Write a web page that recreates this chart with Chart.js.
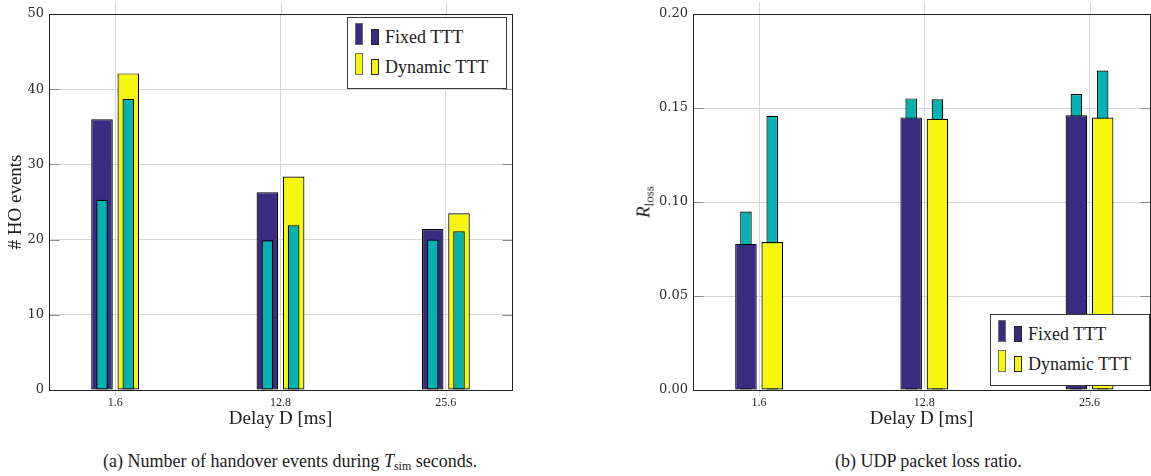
<!DOCTYPE html>
<html lang="en">
<head>
<meta charset="utf-8">
<title>Fixed vs dynamic TTT</title>
<script src="https://cdn.jsdelivr.net/npm/chart.js@4.4.1/dist/chart.umd.min.js"></script>
<style>
  html, body { margin: 0; padding: 0; background: #fff; overflow: hidden; }
  #figure { position: relative; width: 1151px; height: 476px; overflow: hidden;
            font-family: 'Liberation Serif', 'Times New Roman', serif; color: #1c1c1c; }
  #figure canvas { position: absolute; top: 0; }
  .legend { position: absolute; box-sizing: border-box; width: 160px; height: 72px;
            background: #fff; border: 1px solid #3a3a3a; }
  .legend .swatch { position: absolute; box-sizing: border-box; width: 8px; }
  .legend .swatch.big { height: 22px; border: 1px solid #707070; }
  .legend .swatch.small { height: 16px; border: 1px solid #262626; }
  .legend .text { position: absolute; left: 37px; font-size: 18px; line-height: 18px; white-space: nowrap; }
  .caption { position: absolute; top: 452px; font-size: 18px; line-height: 18px; white-space: nowrap; }
  .caption sub { font-size: 12px; vertical-align: -3px; line-height: 0; }
  #rloss { position: absolute; left: 643px; top: 202px; font-size: 19px; line-height: 1; white-space: nowrap;
           transform: translate(-50%, -50%) rotate(-90deg); }
  #rloss sub { font-size: 13px; vertical-align: -4px; line-height: 0; }
</style>
</head>
<body>
<div id="figure">
  <canvas id="hoChart" width="520" height="440" style="left:0"></canvas>
  <canvas id="lossChart" width="575" height="440" style="left:576px"></canvas>
  <div id="rloss"><i>R</i><sub>loss</sub></div>
  <div class="caption" style="left:103px">(a) Number of handover events during <i>T</i><sub>sim</sub> seconds.</div>
  <div class="caption" style="left:835px">(b) UDP packet loss ratio.</div>
</div>
<script>
// delay values on the x axis (drawn as evenly spaced categories)
const DELAY_LABELS = ['1.6', '12.8', '25.6'];
const SERIES_NAMES = ['Fixed TTT', 'Dynamic TTT'];

// number of handover events
const HO_FIXED = [36.0, 26.3, 21.4];
const HO_FIXED_INNER = [25.3, 19.9, 20.0];
const HO_DYNAMIC = [42.1, 28.4, 23.5];
const HO_DYNAMIC_INNER = [38.7, 21.9, 21.1];
const HO_TICKS = [0, 10, 20, 30, 40, 50];

// UDP packet loss ratio
const LOSS_FIXED = [0.0777, 0.1450, 0.1461];
const LOSS_FIXED_INNER = [0.0949, 0.1551, 0.1574];
const LOSS_DYNAMIC = [0.0787, 0.1443, 0.1449];
const LOSS_DYNAMIC_INNER = [0.1459, 0.1546, 0.1699];
const LOSS_TICKS = [0, 0.05, 0.10, 0.15, 0.20];

const COLORS = {
  fixed: '#382b80',
  dynamic: '#f6f60e',
  inner: '#00b3b1',
  edge: '#000000',
  grid: '#d6d6d6',
  tick: '#8c8c8c',
  frame: '#222222',
  text: '#1c1c1c',
};
const SERIF = "'Liberation Serif', 'Times New Roman', serif";

// Box around the plot area, inward y ticks and x grid lines that overhang the box.
const axesBox = {
  id: 'axesBox',
  afterDatasetsDraw(chart, args, opts) {
    const { ctx, chartArea: a, scales: { x, y } } = chart;
    const left = Math.round(a.left) + 0.5;
    const right = Math.round(a.right) + 0.5;
    const top = Math.round(a.top) + 0.5;
    const bottom = Math.round(a.bottom) + 0.5;
    ctx.save();
    ctx.lineWidth = 1;

    ctx.strokeStyle = COLORS.grid;
    ctx.beginPath();
    x.ticks.forEach((t) => {
      const px = Math.round(x.getPixelForValue(t.value)) + 0.5;
      ctx.moveTo(px, top - opts.overTop);
      ctx.lineTo(px, top);
      ctx.moveTo(px, bottom);
      ctx.lineTo(px, bottom + opts.overBottom);
    });
    ctx.stroke();

    ctx.strokeStyle = COLORS.tick;
    ctx.beginPath();
    y.ticks.forEach((t) => {
      const py = Math.round(y.getPixelForValue(t.value)) + 0.5;
      ctx.moveTo(left, py);
      ctx.lineTo(left + opts.tickLength, py);
      ctx.moveTo(right, py);
      ctx.lineTo(right - opts.tickLength, py);
    });
    ctx.stroke();

    ctx.strokeStyle = COLORS.frame;
    ctx.strokeRect(left, top, right - left, bottom - top);
    ctx.restore();
  },
};

function barSet(label, values, color, stack, wide, order) {
  return {
    label: label,
    stack: stack,
    order: order,
    data: values.map((v, i) => ({ x: i, y: v })),
    backgroundColor: color,
    borderColor: COLORS.edge,
    borderWidth: 1.2,
    borderSkipped: false,
    categoryPercentage: 0.318,
    barPercentage: wide ? 0.82 : 0.44,
  };
}

function makeChart(canvasId, cfg) {
  const yTitle = cfg.yTitle
    ? { display: true, text: cfg.yTitle, color: COLORS.text, font: { family: SERIF, size: 19 }, padding: { top: 5, bottom: 0 } }
    : { display: false };

  return new Chart(document.getElementById(canvasId), {
    type: 'bar',
    data: { datasets: cfg.datasets },
    plugins: [axesBox],
    options: {
      responsive: false,
      animation: false,
      layout: { padding: { top: 14, right: cfg.padRight, bottom: 10, left: 0 } },
      plugins: {
        legend: { display: false },
        tooltip: { enabled: false },
        axesBox: { tickLength: 10, overTop: 12, overBottom: 6 },
      },
      scales: {
        x: {
          type: 'linear',
          min: -0.4,
          max: cfg.xMax,
          offset: false,
          grid: { offset: false, color: COLORS.grid, drawTicks: false },
          border: { display: false },
          afterBuildTicks: (s) => { s.ticks = DELAY_LABELS.map((_, i) => ({ value: i })); },
          afterFit: (s) => { s.height = 40; },
          ticks: {
            callback: (v) => DELAY_LABELS[v],
            color: COLORS.text,
            font: { family: SERIF, size: 12 },
            padding: 6,
            maxRotation: 0,
            autoSkip: false,
          },
          title: {
            display: true,
            text: 'Delay D [ms]',
            color: COLORS.text,
            font: { family: SERIF, size: 19 },
            padding: 0,
          },
        },
        y: {
          min: cfg.yTicks[0],
          max: cfg.yTicks[cfg.yTicks.length - 1],
          stacked: false,
          grid: { color: COLORS.grid, drawTicks: false },
          border: { display: false },
          afterBuildTicks: (s) => { s.ticks = cfg.yTicks.map((v) => ({ value: v })); },
          afterFit: (s) => { s.width = cfg.yWidth; },
          ticks: {
            callback: cfg.yFormat,
            color: '#2e2e2e',
            font: { family: "'DejaVu Serif', serif", size: 13 },
            padding: 5,
          },
          title: yTitle,
        },
      },
    },
  });
}

function buildLegend(left, top) {
  const box = document.createElement('div');
  box.className = 'legend';
  box.style.left = left + 'px';
  box.style.top = top + 'px';
  [COLORS.fixed, COLORS.dynamic].forEach((color, i) => {
    const dy = i * 30;
    const big = document.createElement('span');
    big.className = 'swatch big';
    big.style.cssText = `left:7px;top:${5 + dy}px;background:${color}`;
    const small = document.createElement('span');
    small.className = 'swatch small';
    small.style.cssText = `left:23px;top:${11 + dy}px;background:${color}`;
    const text = document.createElement('span');
    text.className = 'text';
    text.style.top = (10 + dy) + 'px';
    text.textContent = SERIES_NAMES[i];
    box.append(big, small, text);
  });
  document.getElementById('figure').appendChild(box);
}

document.addEventListener('DOMContentLoaded', function () {
  if (typeof Chart === 'undefined') {
    console.error('Chart.js is not loaded.');
    return;
  }

  // handover events: inner bars sit on top of the wide ones
  makeChart('hoChart', {
    xMax: 2.4,
    padRight: 8,
    yWidth: 49,
    yTicks: HO_TICKS,
    yFormat: (v) => String(v),
    yTitle: '# HO events',
    datasets: [
      barSet('Fixed TTT (inner)', HO_FIXED_INNER, COLORS.inner, 'fixed', false, 0),
      barSet('Dynamic TTT (inner)', HO_DYNAMIC_INNER, COLORS.inner, 'dynamic', false, 1),
      barSet(SERIES_NAMES[0], HO_FIXED, COLORS.fixed, 'fixed', true, 2),
      barSet(SERIES_NAMES[1], HO_DYNAMIC, COLORS.dynamic, 'dynamic', true, 3),
    ],
  });

  // packet loss: wide bars cover the inner ones
  makeChart('lossChart', {
    xMax: 2.366,
    padRight: 1,
    yWidth: 117,
    yTicks: LOSS_TICKS,
    yFormat: (v) => v.toFixed(2),
    yTitle: null,
    datasets: [
      barSet(SERIES_NAMES[0], LOSS_FIXED, COLORS.fixed, 'fixed', true, 0),
      barSet(SERIES_NAMES[1], LOSS_DYNAMIC, COLORS.dynamic, 'dynamic', true, 1),
      barSet('Fixed TTT (inner)', LOSS_FIXED_INNER, COLORS.inner, 'fixed', false, 2),
      barSet('Dynamic TTT (inner)', LOSS_DYNAMIC_INNER, COLORS.inner, 'dynamic', false, 3),
    ],
  });

  buildLegend(347, 17);
  buildLegend(990, 314);
});
</script>
</body>
</html>
